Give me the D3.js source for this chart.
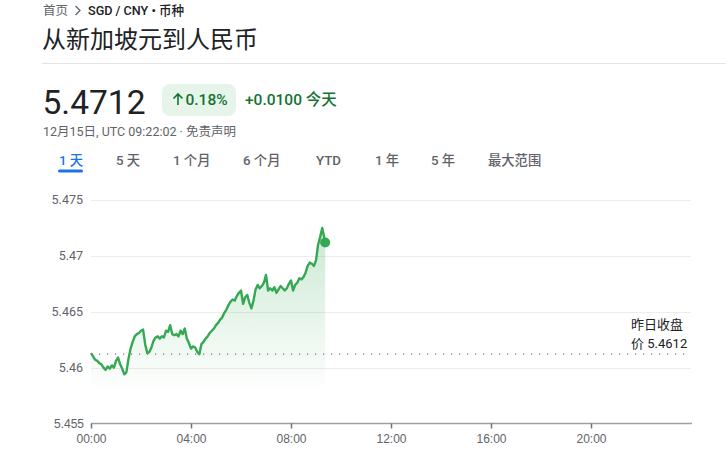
<!DOCTYPE html>
<html>
<head>
<meta charset="utf-8">
<script src="https://cdn.jsdelivr.net/npm/d3@7"></script>
<style>
  html, body { margin: 0; padding: 0; background: #fff; }
  svg { display: block; font-family: Roboto, "Noto Sans CJK SC", sans-serif; }
</style>
</head>
<body>
<svg id="chart" width="726" height="469"></svg>
<script>
// ---- data ----
const title = "从新加坡元到人民币";
const breadcrumbHome = "首页";
const breadcrumbPair = "SGD / CNY • 币种";
const priceText = "5.4712";
const changePct = "0.18%";
const changeAbs = "+0.0100 今天";
const timestampText = "12月15日, UTC 09:22:02 · 免责声明";
const tabs = ["1 天", "5 天", "1 个月", "6 个月", "YTD", "1 年", "5 年", "最大范围"];
const prevClose = 5.4612;
const prevCloseLabel = ["昨日收盘", "价 5.4612"];
const yTicks = [5.455, 5.46, 5.465, 5.47, 5.475];
const yTickLabels = ["5.455", "5.46", "5.465", "5.47", "5.475"];
const xTicks = [0, 240, 480, 720, 960, 1200];   // minutes since 00:00
const xTickLabels = ["00:00", "04:00", "08:00", "12:00", "16:00", "20:00"];
// rate every 5 minutes from 00:00, then last quote at 09:22
const rateStepMin = 5;
const rates = [
  5.4613, 5.4610, 5.4607, 5.4606, 5.4604, 5.4603, 5.4600, 5.4598, 5.4601, 5.4599,
  5.4602, 5.4600, 5.4606, 5.4609, 5.4603, 5.4599, 5.4594, 5.4596, 5.4608, 5.4617,
  5.4623, 5.4628, 5.4630, 5.4631, 5.4633, 5.4634, 5.4621, 5.4613, 5.4614, 5.4618,
  5.4624, 5.4627, 5.4628, 5.4626, 5.4628, 5.4627, 5.4633, 5.4632, 5.4638, 5.4630,
  5.4629, 5.4630, 5.4628, 5.4633, 5.4630, 5.4635, 5.4626, 5.4622, 5.4617, 5.4619,
  5.4618, 5.4614, 5.4612, 5.4621, 5.4623, 5.4626, 5.4628, 5.4631, 5.4633, 5.4635,
  5.4638, 5.4640, 5.4643, 5.4645, 5.4649, 5.4652, 5.4656, 5.4659, 5.4661, 5.4660,
  5.4664, 5.4667, 5.4669, 5.4657, 5.4663, 5.4665, 5.4658, 5.4653, 5.4660, 5.4670,
  5.4674, 5.4671, 5.4673, 5.4676, 5.4683, 5.4669, 5.4671, 5.4669, 5.4672, 5.4667,
  5.4670, 5.4673, 5.4671, 5.4669, 5.4671, 5.4675, 5.4678, 5.4669, 5.4674, 5.4676,
  5.4680, 5.4679, 5.4681, 5.4685, 5.4691, 5.4694, 5.4693, 5.4691, 5.4696, 5.4710,
  5.4717, 5.4725, 5.4716
];
const lastMinute = 562;   // 09:22
const lastRate = 5.4712;

// ---- build series ----
const series = rates.map((v, i) => ({ t: i * rateStepMin, v }));
series.push({ t: lastMinute, v: lastRate });

const svg = d3.select("#chart");
const green = "#34a853";
const darkGreen = "#137333";

// ---- header ----
svg.append("text").attr("x", 43).attr("y", 15).attr("font-size", 12.5).attr("fill", "#5f6368")
  .attr("font-family", "'Noto Sans CJK SC', sans-serif").text(breadcrumbHome);
svg.append("path").attr("d", "M75.5,6 L80,10.5 L75.5,15").attr("fill", "none")
  .attr("stroke", "#5f6368").attr("stroke-width", 1.3);
svg.append("text").attr("x", 88).attr("y", 15).attr("font-size", 12.6).attr("font-weight", 500)
  .attr("fill", "#202124").text(breadcrumbPair);

svg.append("text").attr("x", 42).attr("y", 48).attr("font-size", 24).attr("fill", "#202124")
  .attr("font-family", "'Noto Sans CJK SC', sans-serif").text(title);

svg.append("line").attr("x1", 42).attr("x2", 726).attr("y1", 63.5).attr("y2", 63.5)
  .attr("stroke", "#e3e3e3").attr("stroke-width", 1);

svg.append("text").attr("x", 42.5).attr("y", 113.5).attr("font-size", 33.5).attr("fill", "#202124")
  .text(priceText);

svg.append("rect").attr("x", 162).attr("y", 84).attr("width", 74).attr("height", 32).attr("rx", 8)
  .attr("fill", "#e6f4ea");
// up arrow
svg.append("path").attr("d", "M178,105 L178,94 M173.5,98.5 L178,94 L182.5,98.5").attr("fill", "none")
  .attr("stroke", darkGreen).attr("stroke-width", 1.6);
svg.append("text").attr("x", 185.5).attr("y", 105).attr("font-size", 15.5).attr("font-weight", 500)
  .attr("fill", darkGreen).text(changePct);
svg.append("text").attr("x", 245).attr("y", 105).attr("font-size", 15.5).attr("font-weight", 500)
  .attr("fill", darkGreen).text(changeAbs);

svg.append("text").attr("x", 43).attr("y", 136).attr("font-size", 12.5).attr("fill", "#5f6368")
  .text(timestampText);

// tabs
const tabX = [59, 116, 173, 243, 316, 375, 431, 488];
tabs.forEach((t, i) => {
  svg.append("text").attr("x", tabX[i]).attr("y", 165).attr("font-size", 13.3)
    .attr("fill", i === 0 ? "#1a73e8" : "#5f6368").attr("font-weight", 500).text(t);
});
svg.append("rect").attr("x", 58).attr("y", 169.5).attr("width", 25).attr("height", 3).attr("rx", 1.5)
  .attr("fill", "#1a73e8");

// ---- chart ----
const x = d3.scaleLinear().domain([0, 1440]).range([91, 691]);
const y = d3.scaleLinear().domain([5.455, 5.475]).range([423.5, 200]);

// gridlines (except baseline)
svg.append("g").selectAll("line").data(yTicks.filter(d => d !== 5.455)).join("line")
  .attr("x1", x(0)).attr("x2", x(1440)).attr("y1", d => Math.round(y(d)) + 0.5).attr("y2", d => Math.round(y(d)) + 0.5)
  .attr("stroke", "#ececec").attr("stroke-width", 1);

// y labels
yTicks.forEach((d, i) => {
  const isBase = d === 5.455;
  svg.append("text").attr("x", isBase ? 84 : 83).attr("y", y(d)).attr("dy", "0.35em")
    .attr("text-anchor", "end")
    .attr("font-size", isBase ? 12 : 12.5)
    .attr("font-family", isBase ? "'Liberation Sans Narrow', 'Arial Narrow', sans-serif" : "Roboto, sans-serif")
    .attr("fill", "#5f6368").text(yTickLabels[i]);
});

// gradient
const defs = svg.append("defs");
const grad = defs.append("linearGradient").attr("id", "fillGrad")
  .attr("gradientUnits", "userSpaceOnUse").attr("x1", 0).attr("x2", 0)
  .attr("y1", y(5.4725)).attr("y2", 392);
grad.append("stop").attr("offset", 0).attr("stop-color", green).attr("stop-opacity", 0.26);
grad.append("stop").attr("offset", 1).attr("stop-color", green).attr("stop-opacity", 0.0);

const area = d3.area().x(d => x(d.t)).y0(392).y1(d => y(d.v));
svg.append("path").datum(series).attr("d", area).attr("fill", "url(#fillGrad)");

// previous close dotted line
svg.append("line").attr("x1", x(0)).attr("x2", x(1440)).attr("y1", y(prevClose)).attr("y2", y(prevClose))
  .attr("stroke", "#70757a").attr("stroke-width", 1.2).attr("stroke-dasharray", "1.2,6.8");

// line
const line = d3.line().x(d => x(d.t)).y(d => y(d.v));
svg.append("path").datum(series).attr("d", line).attr("fill", "none")
  .attr("stroke", green).attr("stroke-width", 2.4).attr("stroke-linejoin", "round");

// last point dot
svg.append("circle").attr("cx", x(lastMinute)).attr("cy", y(lastRate)).attr("r", 5).attr("fill", green);

// x axis baseline and ticks
const xAxis = d3.axisBottom(x).tickValues(xTicks).tickFormat((d, i) => xTickLabels[i]).tickSize(5).tickPadding(6);
const gx = svg.append("g").attr("transform", `translate(0,${Math.round(y(5.455)) - 0.5})`).call(xAxis);
gx.select(".domain").attr("d", `M${x(0)},0H${x(1440) + 1}`).attr("stroke", "#9aa0a6").attr("stroke-width", 1.5);
gx.selectAll(".tick line").attr("stroke", "#70757a").attr("stroke-width", 1.5);
gx.selectAll(".tick text").attr("fill", "#5f6368").attr("font-size", 12)
  .attr("font-family", "'Liberation Sans Narrow', 'Arial Narrow', sans-serif");

// previous close label
svg.append("text").attr("x", 631).attr("y", 329).attr("font-size", 13).attr("fill", "#202124")
  .text(prevCloseLabel[0]);
svg.append("text").attr("x", 631).attr("y", 347.5).attr("font-size", 13).attr("fill", "#202124")
  .text(prevCloseLabel[1]);
</script>
</body>
</html>
